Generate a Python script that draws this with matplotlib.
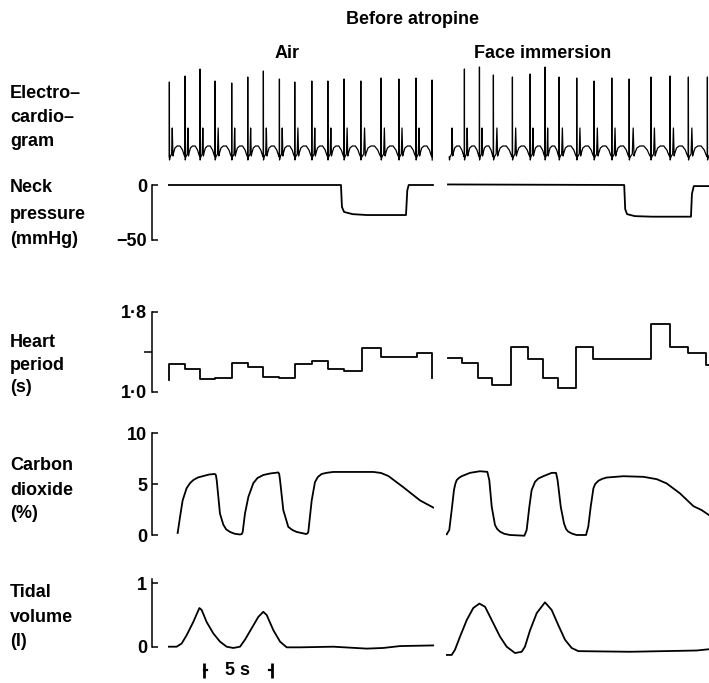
import numpy as np
import matplotlib.pyplot as plt

plt.rcParams["font.family"] = ["Liberation Sans", "DejaVu Sans"]
plt.rcParams["font.size"] = 13
plt.rcParams["font.weight"] = "bold"

# ---- data (time in s from the start of each panel) ----
ecg_air_beats = [0.09, 1.20, 2.25, 3.31, 4.48, 5.61, 6.71, 7.84, 8.92, 10.12, 11.25, 12.39, 13.57, 15.0, 16.25, 17.46, 18.59]
ecg_air_heights = [0.75, 0.81, 0.88, 0.76, 0.74, 0.80, 0.86, 0.78, 0.75, 0.76, 0.76, 0.78, 0.76, 0.79, 0.78, 0.79, 0.77]
ecg_face_beats = [1.29, 2.35, 3.33, 4.67, 5.92, 6.97, 7.96, 9.2, 10.42, 11.67, 12.89, 14.42, 15.77, 17.06, 18.4]
ecg_face_heights = [0.88, 0.90, 0.82, 0.80, 0.83, 0.90, 0.80, 0.79, 0.76, 0.79, 0.78, 0.80, 0.81, 0.80, 0.80]
# one beat, as fraction of the R-R interval
ecg_phase = [0.0, 0.006, 0.014, 0.05, 0.15, 0.19, 0.23, 0.27, 0.36, 0.5, 0.68, 0.84, 0.94, 1.0]
ecg_shape = [0.0, 1.0, -0.03, 0.0, 0.03, 0.29, 0.01, 0.04, 0.09, 0.11, 0.11, 0.07, 0.02, 0.0]

neck_air_t = [0.0, 12.18, 12.25, 12.4, 13.0, 14.0, 16.76, 16.85, 16.95, 18.66]
neck_air = [0, 0, -20, -24.5, -26.5, -27.3, -27.3, -5, 0, 0]
neck_face_t = [0.14, 12.55, 12.62, 12.75, 13.3, 14.5, 17.25, 17.32, 17.45, 18.7]
neck_face = [0.5, 0, -22, -26.5, -28.3, -28.8, -28.8, -8, -1, -1]

hp_air_edges = [0.09, 1.20, 2.25, 3.31, 4.48, 5.61, 6.71, 7.84, 8.92, 10.12, 11.25, 12.39, 13.69, 15.0, 17.51, 18.59]
hp_air = [1.28, 1.23, 1.13, 1.14, 1.29, 1.25, 1.15, 1.14, 1.28, 1.31, 1.23, 1.21, 1.44, 1.35, 1.39]
hp_air_start, hp_air_end = 1.12, 1.14
hp_face_edges = [0.16, 1.15, 2.23, 3.22, 4.56, 5.75, 6.85, 7.87, 9.13, 10.37, 14.42, 15.77, 17.06, 18.31, 19.0]
hp_face = [1.34, 1.29, 1.14, 1.07, 1.45, 1.33, 1.14, 1.04, 1.45, 1.33, 1.68, 1.45, 1.39, 1.27]

co2_air_t = [0.68, 0.85, 1.03, 1.31, 1.55, 1.78, 2.1, 2.49, 2.9, 3.31, 3.37, 3.43, 3.66, 3.90, 4.1, 4.37, 4.7,
             5.07, 5.2, 5.26, 5.42, 5.66, 6.01, 6.3, 6.71, 7.2, 7.77, 7.83, 7.89, 8.12, 8.47, 8.75, 9.06, 9.72,
             9.82, 9.88, 10.12, 10.35, 10.55, 10.82, 11.2, 11.64, 14.46, 15.0, 15.52, 16.57, 17.75, 18.68]
co2_air = [0.2, 1.8, 3.4, 4.6, 5.1, 5.4, 5.65, 5.8, 5.95, 6.0, 5.9, 5.4, 2.1, 1.0, 0.55, 0.3, 0.12,
           0.05, 0.1, 0.3, 2.1, 3.75, 5.1, 5.6, 5.9, 6.05, 6.15, 6.0, 5.4, 2.45, 0.8, 0.5, 0.3, 0.1,
           0.15, 0.3, 3.4, 5.2, 5.7, 6.0, 6.12, 6.2, 6.2, 6.1, 5.8, 4.7, 3.4, 2.7]
co2_face_t = [0.05, 0.23, 0.40, 0.56, 0.65, 0.75, 0.9, 1.10, 1.69, 2.39, 2.91, 3.05, 3.22, 3.45, 3.6, 3.80, 4.1,
              4.51, 5.52, 5.68, 5.87, 6.03, 6.27, 6.5, 6.85, 7.44, 7.75, 7.86, 8.08, 8.31, 8.45, 8.61, 8.9, 9.20,
              9.86, 10.02, 10.19, 10.38, 10.5, 10.73, 11.0, 11.31, 12.49, 13.90, 14.84, 15.54, 16.48, 17.42,
              18.0, 18.52]
co2_face = [0.07, 0.49, 2.45, 4.41, 5.0, 5.39, 5.6, 5.78, 6.11, 6.27, 6.21, 5.39, 2.78, 0.98, 0.6, 0.33, 0.12,
            0.0, -0.07, 0.49, 2.78, 4.41, 5.23, 5.55, 5.78, 6.11, 6.11, 5.39, 2.78, 1.14, 0.6, 0.33, 0.12, 0.0,
            0.0, 0.82, 2.78, 4.58, 5.0, 5.33, 5.52, 5.65, 5.78, 5.72, 5.49, 5.07, 4.09, 2.84,
            2.45, 1.96]

tv_air_t = [0.0, 0.61, 0.96, 1.31, 1.78, 2.21, 2.37, 2.72, 3.19, 3.66, 4.13, 4.60, 5.07, 5.42, 5.89, 6.36, 6.71,
            6.95, 7.42, 7.89, 8.36, 9.30, 11.64, 13.99, 15.16, 16.34, 18.69]
tv_air = [0.0, 0.0, 0.05, 0.18, 0.39, 0.61, 0.58, 0.39, 0.21, 0.08, 0.0, -0.02, 0.0, 0.11, 0.29, 0.47, 0.55,
          0.50, 0.26, 0.08, -0.01, -0.01, 0.0, -0.03, -0.02, 0.01, 0.02]
tv_face_t = [0.05, 0.40, 0.63, 0.99, 1.46, 1.92, 2.35, 2.75, 3.22, 3.80, 4.27, 4.86, 5.33, 5.56, 5.92, 6.39, 6.97,
             7.44, 7.91, 8.38, 8.85, 9.32, 12.96, 15.31, 17.65, 18.52]
tv_face = [-0.13, -0.13, -0.05, 0.16, 0.42, 0.61, 0.68, 0.63, 0.42, 0.16, 0.0, -0.10, -0.08, 0.0, 0.26, 0.53, 0.70,
           0.58, 0.34, 0.11, -0.02, -0.07, -0.08, -0.07, -0.06, -0.04]

scale_bar = (2.52, 7.32)  # ends of the "5 s" marker on the time axis

# ---- layout ----
W, H = 709, 683
PX_PER_S = 14.2
T_MAX = 18.7
PANEL_X = {"air": 168, "face": 446}

fig = plt.figure(figsize=(W / 100, H / 100), dpi=100)


def row_axes(x0, y0, y1, cal):
    """Axes over pixel rows y0..y1; cal = two (pixel y, value) pairs fixing the scale."""
    (ya, va), (yb, vb) = cal
    k = (va - vb) / (yb - ya)
    ax = fig.add_axes([x0 / W, 1 - y1 / H, T_MAX * PX_PER_S / W, (y1 - y0) / H])
    ax.set_xlim(0, T_MAX)
    ax.set_ylim(va - (y1 - ya) * k, va + (ya - y0) * k)
    ax.patch.set_visible(False)
    ax.axis("off")
    return ax


def bracket(ax, ticks, labels, bounds, minor=None):
    ax.axis("on")
    for s in ("top", "right", "bottom"):
        ax.spines[s].set_visible(False)
    ax.xaxis.set_visible(False)
    sp = ax.spines["left"]
    sp.set_position(("outward", 11.5))
    sp.set_bounds(*bounds)
    sp.set_linewidth(1.1)
    ax.set_yticks(ticks, labels)
    ax.tick_params(axis="y", which="major", direction="in", length=4.5, width=1.1, pad=3.5, labelsize=13)
    if minor is not None:
        ax.set_yticks([minor], minor=True)
        ax.tick_params(axis="y", which="minor", direction="out", length=5.5, width=1.1)


def ecg_trace(beats, heights, t_start, t_end):
    beats = np.asarray(beats, float)
    rr = np.diff(beats)
    rr = np.append(rr, rr[-1])
    cycles = [(beats[0] - rr[0], rr[0], 0.0)] + list(zip(beats, rr, heights))
    ts, vs = [], []
    for b, r, h in cycles:
        wave = np.array(ecg_shape, float)
        wave[1] *= h
        ts.append(b + np.asarray(ecg_phase) * r)
        vs.append(wave)
    t = np.concatenate(ts)
    v = np.concatenate(vs)
    keep = (t >= t_start) & (t <= t_end)
    return t[keep], v[keep]


def steps(edges, levels, start=None, end=None):
    x = np.repeat(edges, 2)[1:-1]
    y = np.repeat(levels, 2)
    if start is not None:
        x = np.r_[edges[0], x]
        y = np.r_[start, y]
    if end is not None:
        x = np.r_[x, edges[-1]]
        y = np.r_[y, end]
    return x, y


LW = 1.3
k = "black"

# ECG
ecg_cal = [(157, 0.0), (57, 1.0)]
for key, beats, hts, t0, t1 in [("air", ecg_air_beats, ecg_air_heights, 0.07, 18.62),
                                 ("face", ecg_face_beats, ecg_face_heights, 0.12, 19.0)]:
    ax = row_axes(PANEL_X[key], 55, 165, ecg_cal)
    t, v = ecg_trace(beats, hts, t0, t1)
    ax.plot(t, v, color=k, lw=0.9)

# Neck pressure
neck_cal = [(185, 0), (240, -50)]
ax = row_axes(PANEL_X["air"], 170, 255, neck_cal)
ax.plot(neck_air_t, neck_air, color=k, lw=LW)
bracket(ax, [0, -50], ["0", "\u221250"], (-50, 0))
ax = row_axes(PANEL_X["face"], 170, 255, neck_cal)
ax.plot(neck_face_t, neck_face, color=k, lw=LW)

# Heart period
hp_cal = [(312, 1.8), (392, 1.0)]
ax = row_axes(PANEL_X["air"], 300, 400, hp_cal)
ax.plot(*steps(hp_air_edges, hp_air, hp_air_start, hp_air_end), color=k, lw=LW)
bracket(ax, [1.0, 1.8], ["1\u00b70", "1\u00b78"], (1.0, 1.8), minor=1.4)
ax = row_axes(PANEL_X["face"], 300, 400, hp_cal)
ax.plot(*steps(hp_face_edges, hp_face), color=k, lw=LW)

# Carbon dioxide
co2_cal = [(433.3, 10), (535, 0)]
ax = row_axes(PANEL_X["air"], 420, 548, co2_cal)
ax.plot(co2_air_t, co2_air, color=k, lw=LW)
bracket(ax, [0, 5, 10], ["0", "5", "10"], (0, 10))
ax = row_axes(PANEL_X["face"], 420, 548, co2_cal)
ax.plot(co2_face_t, co2_face, color=k, lw=LW)

# Tidal volume
tv_cal = [(583.3, 1), (646.7, 0)]
ax = row_axes(PANEL_X["air"], 570, 660, tv_cal)
ax.plot(tv_air_t, tv_air, color=k, lw=LW)
bracket(ax, [0, 1], ["0", "1"], (0, 1.06))
a, b = scale_bar
for x, d in [(a, 1), (b, -1)]:
    ax.plot([x, x], [-0.26, -0.49], color=k, lw=2.0, clip_on=False, solid_capstyle="butt")
    ax.plot([x, x + 0.2 * d], [-0.36, -0.36], color=k, lw=1.6, clip_on=False)
ax.text((a + b) / 2, -0.375, "5 s", ha="center", va="center", fontsize=13, fontweight="bold")
ax = row_axes(PANEL_X["face"], 570, 660, tv_cal)
ax.plot(tv_face_t, tv_face, color=k, lw=LW)

# Text
def fig_text(x, y, s, **kw):
    fig.text(x / W, 1 - y / H, s, **kw)

fig_text(413, 20, "Before atropine", ha="center", va="center")
fig_text(287, 54, "Air", ha="center", va="center")
fig_text(543, 54, "Face immersion", ha="center", va="center")

row_labels = [
    (["Electro\u2013", "cardio\u2013", "gram"], [98, 122, 146]),
    (["Neck", "pressure", "(mmHg)"], [192, 219, 244]),
    (["Heart", "period", "(s)"], [347, 370, 392]),
    (["Carbon", "dioxide", "(%)"], [470, 495, 518]),
    (["Tidal", "volume", "(l)"], [597, 622, 646]),
]
for lines, ys in row_labels:
    for s, y in zip(lines, ys):
        fig_text(10, y, s, ha="left", va="baseline")

fig.savefig("out.png", dpi=100)
